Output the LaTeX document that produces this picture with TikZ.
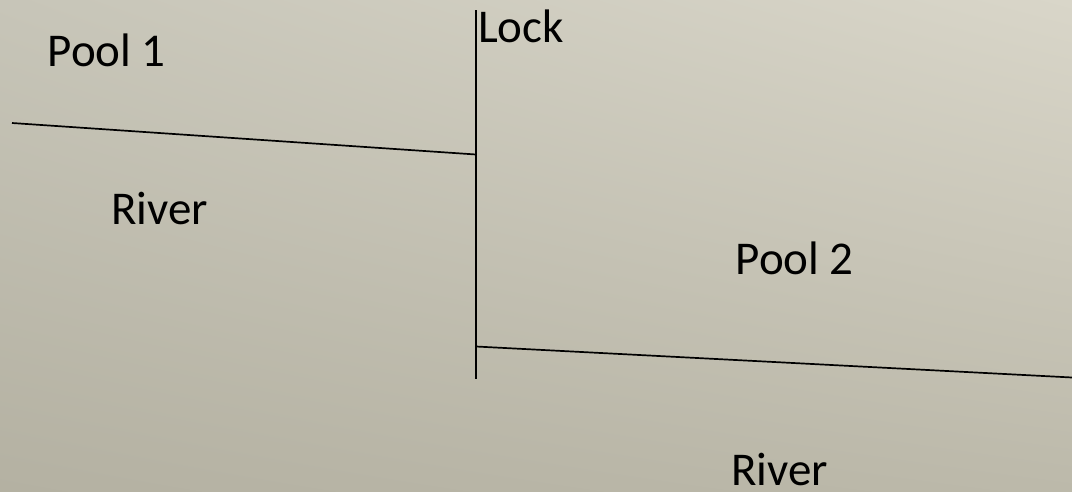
\documentclass[tikz,border=0pt]{standalone}
\usepackage{fontspec}
\setmainfont{Carlito}
\usetikzlibrary{shadings}
\definecolor{bgul}{RGB}{199,197,184}
\definecolor{bgur}{RGB}{217,214,201}
\definecolor{bgll}{RGB}{180,177,162}
\definecolor{bglr}{RGB}{188,185,170}
\begin{document}
\begin{tikzpicture}[x=1pt,y=-1pt,
  lbl/.style={anchor=base west,inner sep=0pt,font=\fontsize{47}{56}\selectfont,text=black},
  wall/.style={draw=black,line width=1.7pt}]
\shade[upper left=bgul,upper right=bgur,lower left=bgll,lower right=bglr]
  (0,0) rectangle (1072,491);
\useasboundingbox (0,0) rectangle (1072,491);
\coordinate (l1s) at (12,123);
\coordinate (l1e) at (476,154.5);
\coordinate (lt) at (476,10);
\coordinate (lb) at (476,379);
\coordinate (l2s) at (476,346.5);
\coordinate (l2e) at (1072,377.5);
\draw[wall] (l1s) -- (l1e);
\draw[wall] (lt) -- (lb);
\draw[wall] (l2s) -- (l2e);
\node[lbl] (pool1) at (47.5,66) {Pool 1};
\node[lbl] (lock) at (478,42) {Lock};
\node[lbl] (river1) at (111,224) {River};
\node[lbl] (pool2) at (735.5,274) {Pool 2};
\node[lbl] (river2) at (731,485) {River};
\end{tikzpicture}
\end{document}
